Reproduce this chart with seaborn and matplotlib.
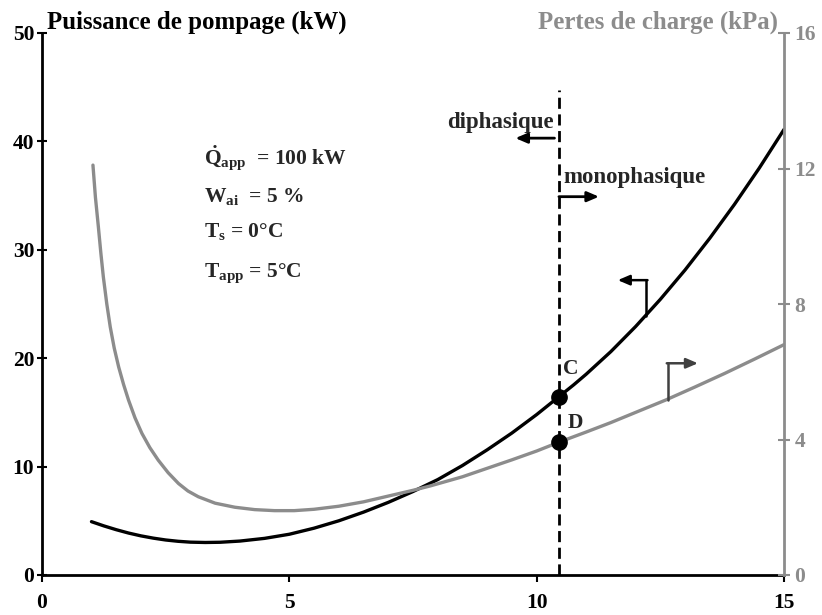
import matplotlib
matplotlib.use("Agg")
import matplotlib.pyplot as plt
import seaborn as sns
import pandas as pd

# Pumping power (left axis, kW) versus x
power_x = [1.0, 1.25, 1.5, 1.75, 2.0, 2.25, 2.5, 2.75, 3.0, 3.3, 3.6, 4.0,
           4.5, 5.0, 5.5, 6.0, 6.5, 7.0, 7.5, 8.0, 8.5, 9.0, 9.5, 10.0,
           10.45, 10.75, 11.0, 11.5, 12.0, 12.5, 13.0, 13.5, 14.0, 14.5, 15.0]
power_kw = [4.92, 4.53, 4.18, 3.87, 3.61, 3.40, 3.23, 3.11, 3.03, 3.0, 3.02,
            3.13, 3.38, 3.76, 4.32, 5.0, 5.8, 6.7, 7.7, 8.8, 10.1, 11.55,
            13.1, 14.8, 16.45, 17.55, 18.52, 20.61, 22.92, 25.43, 28.14,
            31.07, 34.2, 37.54, 41.1]

# Pressure drop (right axis, kPa) versus x
drop_x = [1.03, 1.08, 1.14, 1.19, 1.24, 1.31, 1.38, 1.46, 1.55, 1.65, 1.75,
          1.88, 2.02, 2.18, 2.35, 2.55, 2.76, 2.95, 3.16, 3.5, 3.9, 4.3, 4.7,
          5.1, 5.5, 6.0, 6.5, 7.0, 7.5, 7.85, 8.5, 9.0, 9.5, 10.0, 10.45,
          11.0, 11.5, 12.0, 12.6, 13.2, 13.8, 14.4, 15.0]
drop_kpa = [12.1, 11.15, 10.27, 9.5, 8.8, 8.0, 7.32, 6.7, 6.14, 5.62, 5.16,
            4.64, 4.18, 3.76, 3.39, 3.02, 2.70, 2.48, 2.31, 2.12, 2.0, 1.93,
            1.9, 1.9, 1.94, 2.03, 2.16, 2.33, 2.5, 2.63, 2.9, 3.15, 3.4, 3.66,
            3.92, 4.22, 4.5, 4.8, 5.16, 5.55, 5.95, 6.37, 6.8]

# Transition between two-phase and single-phase flow
x_transition = 10.45
point_c_kw = 16.45
point_d_kpa = 3.92

x_ticks = [0, 5, 10, 15]
left_ticks = [0, 10, 20, 30, 40, 50]
right_ticks = [0, 4, 8, 12, 16]

params = [r"$\dot{\mathrm{Q}}_{\mathrm{app}}$  = 100 kW",
          r"W$_{\mathrm{ai}}$  = 5 %",
          r"T$_{\mathrm{s}}$ = 0°C",
          r"T$_{\mathrm{app}}$ = 5°C"]
params_y = [37.8, 34.4, 31.2, 27.5]

sns.set_style("white")
plt.rcParams["font.family"] = ["Liberation Serif", "DejaVu Serif"]
plt.rcParams["font.weight"] = "bold"
plt.rcParams["mathtext.fontset"] = "custom"
plt.rcParams["mathtext.rm"] = "Liberation Serif:bold"
plt.rcParams["mathtext.it"] = "Liberation Serif:bold"
plt.rcParams["mathtext.bf"] = "Liberation Serif:bold"

GREY = "#8c8c8c"
DARK = "#404040"

fig = plt.figure(figsize=(8.22, 6.15), dpi=100)
ax = fig.add_axes([42 / 822, 1 - 575 / 615, (784 - 42) / 822, (575 - 33) / 615])
ax2 = ax.twinx()

df_power = pd.DataFrame({"x": power_x, "y": power_kw})
df_drop = pd.DataFrame({"x": drop_x, "y": drop_kpa})

sns.lineplot(data=df_drop, x="x", y="y", ax=ax2, color=GREY, lw=2.4, zorder=2)
sns.lineplot(data=df_power, x="x", y="y", ax=ax, color="black", lw=2.4, zorder=3)

ax.set_xlim(0, 15)
ax.set_ylim(0, 50)
ax2.set_ylim(0, 16)
ax.set_xlabel("")
ax.set_ylabel("")
ax2.set_ylabel("")

# Axis styling
for a in (ax, ax2):
    a.spines["top"].set_visible(False)
    a.patch.set_visible(False)
ax.spines["right"].set_visible(False)
ax2.spines["left"].set_visible(False)
ax2.spines["bottom"].set_visible(False)
ax.spines["left"].set_color("black")
ax.spines["bottom"].set_color("black")
ax.spines["left"].set_linewidth(2)
ax.spines["bottom"].set_linewidth(2)
ax2.spines["right"].set_color(GREY)
ax2.spines["right"].set_linewidth(2)

ax.set_xticks(x_ticks)
ax.set_yticks(left_ticks)
ax2.set_yticks(right_ticks)
ax.tick_params(axis="x", direction="out", length=5, width=1.5, pad=8,
               labelsize=15.5, colors="black", bottom=True)
ax.tick_params(axis="y", direction="inout", length=7, width=1.5, pad=2,
               labelsize=15.5, colors="black", left=True)
ax2.tick_params(axis="y", direction="inout", length=9, width=1.5, pad=3,
                labelsize=15.5, colors=GREY, right=True)
for lab in ax.get_xticklabels() + ax.get_yticklabels() + ax2.get_yticklabels():
    lab.set_fontweight("bold")

# Axis titles
fig.text(47 / 822, 1 - 22 / 615, "Puissance de pompage (kW)", ha="left",
         va="center", fontsize=17.9, fontweight="bold", color="black")
fig.text(778 / 822, 1 - 22 / 615, "Pertes de charge (kPa)", ha="right",
         va="center", fontsize=17.9, fontweight="bold", color=GREY)

# Transition line and the two operating points
ax.plot([x_transition, x_transition], [0, 44.7], color="black", lw=2,
        ls=(0, (4, 2)), zorder=4)
ax.plot([x_transition], [point_c_kw], "o", color="black", ms=11, zorder=5)
ax2.plot([x_transition], [point_d_kpa], "o", color="black", ms=11, zorder=5)
ax.text(10.69, 19.0, "C", ha="center", va="center", fontsize=15.5, fontweight="bold")
ax.text(10.79, 14.0, "D", ha="center", va="center", fontsize=15.5, fontweight="bold")

# Region labels
ax.text(10.34, 41.2, "diphasique", ha="right", va="baseline", fontsize=16.5,
        fontweight="bold")
ax.annotate("", xy=(9.57, 40.3), xytext=(10.36, 40.3),
            arrowprops=dict(arrowstyle="-|>,head_length=0.7,head_width=0.3",
                            color="black", lw=2, shrinkA=0, shrinkB=0))
ax.text(10.55, 36.2, "monophasique", ha="left", va="baseline", fontsize=16.5,
        fontweight="bold")
ax.annotate("", xy=(11.26, 34.9), xytext=(10.45, 34.9),
            arrowprops=dict(arrowstyle="-|>,head_length=0.7,head_width=0.3",
                            color="black", lw=2, shrinkA=0, shrinkB=0))

# Elbow arrows pointing to each curve's axis
ax.plot([12.22, 12.22], [23.9, 27.2], color="black", lw=1.8, zorder=3)
ax.annotate("", xy=(11.64, 27.2), xytext=(12.24, 27.2),
            arrowprops=dict(arrowstyle="-|>,head_length=0.7,head_width=0.3",
                            color="black", lw=1.8, shrinkA=0, shrinkB=0))
ax2.plot([12.65, 12.65], [5.16, 6.25], color=DARK, lw=1.8, zorder=3)
ax2.annotate("", xy=(13.26, 6.25), xytext=(12.63, 6.25),
             arrowprops=dict(arrowstyle="-|>,head_length=0.7,head_width=0.3",
                             color=DARK, lw=1.8, shrinkA=0, shrinkB=0))

# Operating conditions
for txt, yy in zip(params, params_y):
    ax.text(3.27, yy, txt, ha="left", va="baseline", fontsize=15.5,
            fontweight="bold")

fig.savefig("out.png", dpi=100)
